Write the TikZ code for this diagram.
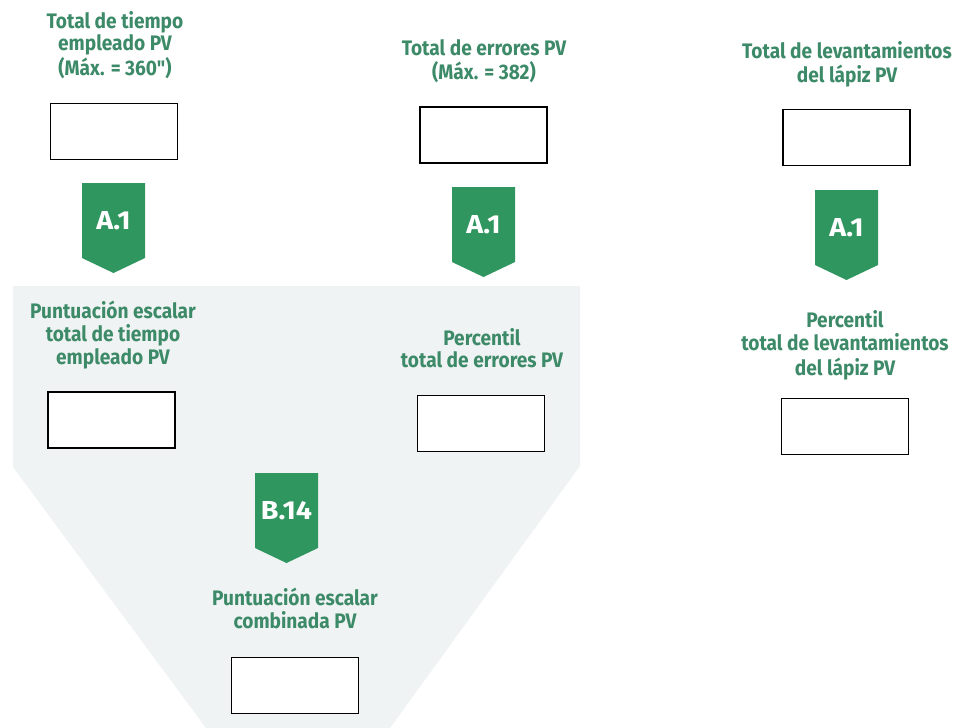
\documentclass[tikz,border=0pt]{standalone}
\usepackage{fontspec}
\setmainfont{Fira Sans}
\newfontfamily\condfont[FakeStretch=0.91]{Fira Sans}
\newfontfamily\badgefont[FakeStretch=1.1]{Fira Sans}

\definecolor{tgreen}{HTML}{3D8A69}
\definecolor{bgreen}{HTML}{30965F}
\definecolor{panel}{HTML}{F0F3F3}

% stacked, centred title lines; the node's base is the first baseline
\newcommand\ttlstack[1]{\begin{tabular}[t]{@{}c@{}}#1\end{tabular}}

% green pentagon badge pointing down: name, centre x, top y, label
\newcommand\gbadge[4]{%
  \fill[bgreen] (#2-31.5,#3) -- (#2+31.5,#3) -- (#2+31.5,#3+75)
     -- (#2,#3+90) -- (#2-31.5,#3+75) -- cycle;
  \node[badgetxt] (#1) at (#2,#3+38) {#4};
}

\begin{document}
\begin{tikzpicture}[x=1pt,y=-1pt,
  title/.style={font=\condfont\bfseries\fontsize{21}{22.5}\selectfont,
    text=tgreen, inner sep=0pt, anchor=base},
  entry/.style={draw=black, line width=1.8pt, fill=white,
    minimum width=127pt, minimum height=56pt, inner sep=0pt},
  badgetxt/.style={font=\badgefont\bfseries\fontsize{26}{28}\selectfont,
    text=white, inner sep=0pt}]

% canvas
\fill[white] (0,0) rectangle (959,728);
\useasboundingbox (0,0) rectangle (959,728);

% shaded panel behind the combined-score section
\fill[panel] (13,286) -- (580,286) -- (580,466) -- (390,728)
  -- (206,728) -- (13,467) -- cycle;

% raw totals
\node[title] (t1) at (115,28)
  {\ttlstack{Total de tiempo\\empleado PV\\(Máx. = 360")}};
\node[title] (t2) at (484,55)
  {\ttlstack{Total de errores PV\\(Máx. = 382)}};
\node[title] (t3) at (847,58)
  {\ttlstack{Total de levantamientos\\del lápiz PV}};

\node[entry] (b1) at (114,131.5) {};
\node[entry] (b2) at (483.5,135) {};
\node[entry] (b3) at (846.5,137.5) {};

% conversion tables
\gbadge{a1}{113.5}{183}{A.1}
\gbadge{a2}{483.5}{187}{A.1}
\gbadge{a3}{846.5}{190}{A.1}

% derived scores
\node[title] (t4) at (113,318)
  {\ttlstack{Puntuación escalar\\total de tiempo\\empleado PV}};
\node[title] (t5) at (482,345)
  {\ttlstack{Percentil\\total de errores PV}};
\node[title] (t6) at (845,327)
  {\ttlstack{Percentil\\total de levantamientos\\del lápiz PV}};

\node[entry] (b4) at (111.5,420) {};
\node[entry] (b5) at (481,423.5) {};
\node[entry] (b6) at (845,426.5) {};

% combined score
\gbadge{b14}{286.5}{473}{B.14}

\node[title] (t7) at (295,605)
  {\ttlstack{Puntuación escalar\\combinada PV}};
\node[entry] (b7) at (295,685.5) {};
\end{tikzpicture}
\end{document}
